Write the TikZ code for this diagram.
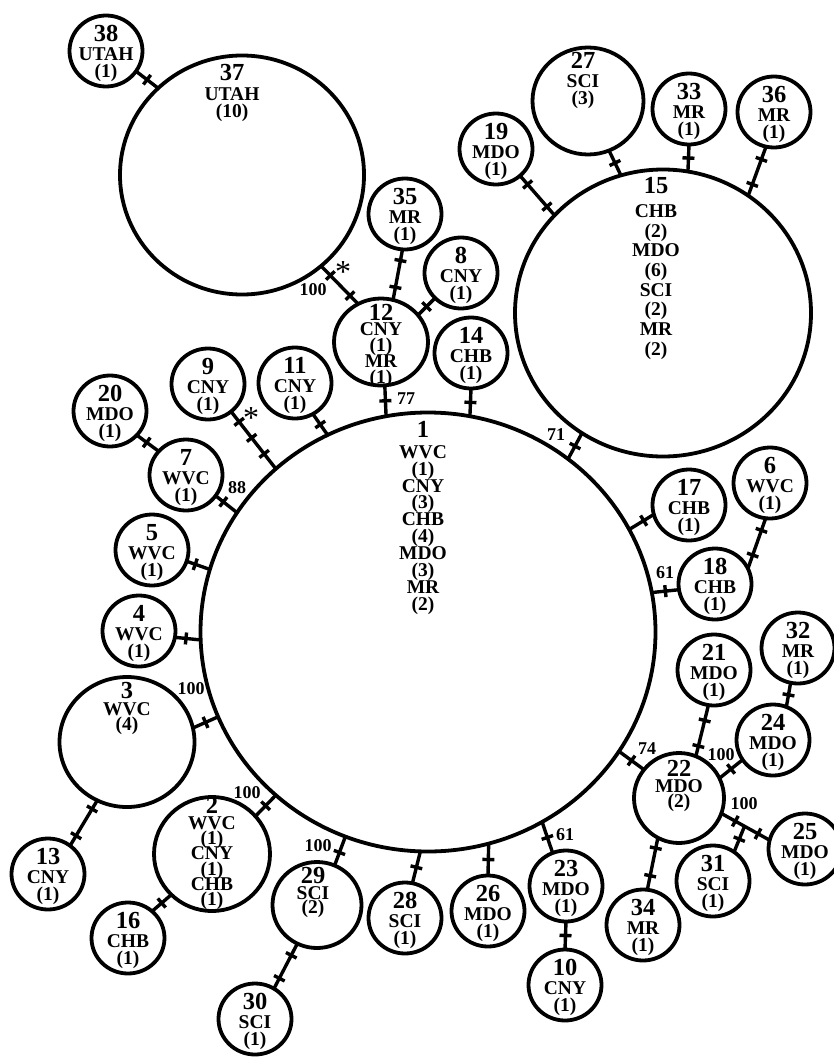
\documentclass[tikz,border=0pt]{standalone}
\usepackage{fontspec}
\setmainfont{Liberation Serif}
\usetikzlibrary{shapes.geometric,decorations.markings}
\newcommand\hnum[1]{{\fontsize{24.5}{24.5}\selectfont #1}}
\tikzset{
  hap/.style 2 args={ellipse, draw, line width=3.8pt, inner sep=0pt, outer sep=0pt, minimum width=#1, minimum height=#2},
  sm/.style={hap={73pt}{71pt}},
  txt/.style={align=center, inner sep=0pt, font=\bfseries\fontsize{19.5}{16.5}\selectfont},
  txtb/.style={align=center, inner sep=0pt, anchor=north, font=\bfseries\fontsize{19.5}{#1}\selectfont},
  cn/.style={line width=3.4pt},
  tk/.style={postaction={decorate, decoration={markings, mark=at position #1 with {\draw[line width=3.4pt] (0pt,-6pt) -- (0pt,6pt);}}}},
  bsv/.style={inner sep=0pt, font=\bfseries\fontsize{18}{18}\selectfont},
  star/.style={inner sep=0pt, font=\fontsize{32}{32}\selectfont}
}
\newcommand\hapS[4]{%
  \node[sm] (n#1) at (#2,#3) {};
  \node[txt] (t#1) at (#2,#3+2.5) {\hnum{#1}\\[2.5pt]#4\\(1)};}
\begin{document}
\lineskiplimit=-30pt
\begin{tikzpicture}[x=1pt,y=-1pt]
\useasboundingbox (0,0) rectangle (834,1057);
% large haplotypes
\node[hap={455pt}{439pt}] (n1) at (428,632) {};
\node[hap={244pt}{239pt}] (n37) at (242,175) {};
\node[hap={296pt}{287pt}] (n15) at (663,313) {};
\node[hap={111pt}{107pt}] (n27) at (588,101) {};
\node[hap={94pt}{87pt}] (n12) at (381,342) {};
\node[hap={135pt}{130pt}] (n3) at (127,742) {};
\node[hap={116pt}{114pt}] (n2) at (212,854) {};
\node[hap={89pt}{86pt}] (n29) at (317,905) {};
\node[hap={90pt}{90pt}] (n22) at (679,798) {};
\node[txtb=16.9] (t1) at (423,421) {\hnum{1}\\[4pt]WVC\\(1)\\CNY\\(3)\\CHB\\(4)\\MDO\\(3)\\MR\\(2)};
\node[txtb=17.5] (t37) at (232,64) {\hnum{37}\\[2.5pt]UTAH\\(10)};
\node[txtb=19.7] (t15) at (656,177) {\hnum{15}\\[4.3pt]CHB\\(2)\\MDO\\(6)\\SCI\\(2)\\MR\\(2)};
\node[txtb=17.5] (t27) at (583,52) {\hnum{27}\\[1.5pt]SCI\\(3)};
\node[txtb=16] (t12) at (381,304) {\hnum{12}\\[-1pt]CNY\\(1)\\MR\\(1)};
\node[txtb=15.5] (t3) at (127,682) {\hnum{3}\\[1.5pt]WVC\\(4)};
\node[txtb=15.2] (t2) at (212,797) {\hnum{2}\\[0.8pt]WVC\\(1)\\CNY\\(1)\\CHB\\(1)};
\node[txtb=14.5] (t29) at (313,867) {\hnum{29}\\[1.5pt]SCI\\(2)};
\node[txtb=15.5] (t22) at (679,760) {\hnum{22}\\[0.5pt]MDO\\(2)};
% single haplotypes
\hapS{38}{106}{51}{UTAH}
\hapS{33}{689}{109}{MR}
\hapS{36}{774}{112}{MR}
\hapS{19}{496}{149}{MDO}
\hapS{35}{405}{214}{MR}
\hapS{8}{461}{273}{CNY}
\hapS{14}{471}{353}{CHB}
\hapS{9}{208}{384}{CNY}
\hapS{11}{295}{383}{CNY}
\hapS{20}{110}{411}{MDO}
\hapS{7}{186}{475}{WVC}
\hapS{5}{152}{550}{WVC}
\hapS{4}{139}{631}{WVC}
\hapS{13}{48}{874}{CNY}
\hapS{16}{128}{938}{CHB}
\hapS{30}{255}{1019}{SCI}
\hapS{28}{405}{918}{SCI}
\hapS{26}{488}{911}{MDO}
\hapS{23}{566}{886}{MDO}
\hapS{10}{565}{985}{CNY}
\hapS{34}{643}{925}{MR}
\hapS{31}{713}{881}{SCI}
\hapS{25}{805}{849}{MDO}
\hapS{24}{773}{740}{MDO}
\hapS{21}{714}{670}{MDO}
\hapS{32}{798}{648}{MR}
\hapS{17}{689}{505}{CHB}
\hapS{18}{715}{584}{CHB}
\hapS{6}{770}{483}{WVC}
% connectors
\draw[cn,tk=0.5] (n38.-34.5) -- (n37.134);
\draw[cn,tk=0.25,tk=0.78] (n37.-49) -- (n12.121.8);
\draw[cn,tk=0.22,tk=0.75] (n35.-94.4) -- (n12.74.7);
\draw[cn,tk=0.5] (n8.-136) -- (n12.36.3);
\draw[cn,tk=0.5] (n12.-85) -- (n1.101);
\draw[cn,tk=0.5] (n14.-90) -- (n1.79.2);
\draw[cn,tk=0.5] (n15.-124.2) -- (n1.51.9);
\draw[cn,tk=0.22,tk=0.78] (n19.-48.1) -- (n15.138);
\draw[cn,tk=0.5] (n27.-67.8) -- (n15.107);
\draw[cn,tk=0.5] (n33.-90) -- (n15.80.2);
\draw[cn,tk=0.26,tk=0.77] (n36.-103.3) -- (n15.54);
\draw[cn,tk=0.18,tk=0.46,tk=0.74] (n9.-50.4) -- (n1.133.6);
\draw[cn,tk=0.5] (n11.-60.6) -- (n1.117.8);
\draw[cn,tk=0.45] (n20.-42) -- (n7.139.2);
\draw[cn,tk=0.36] (n7.-35.7) -- (n1.148.1);
\draw[cn,tk=0.37] (n5.-18.9) -- (n1.164.5);
\draw[cn,tk=0.43] (n4.-10.2) -- (n1.182.7);
\draw[cn,tk=0.5] (n3.12.1) -- (n1.202);
\draw[cn,tk=0.19,tk=0.78] (n3.-117.6) -- (n13.52);
\draw[cn,tk=0.5] (n2.41.7) -- (n1.227.6);
\draw[cn,tk=0.5] (n2.-135.7) -- (n16.48.2);
\draw[cn,tk=0.45] (n29.66.8) -- (n1.248.2);
\draw[cn,tk=0.26,tk=0.77] (n29.-117.1) -- (n30.58);
\draw[cn,tk=0.5] (n28.78.1) -- (n1.-92.5);
\draw[cn,tk=0.5] (n26.90) -- (n1.-74.9);
\draw[cn,tk=0.5] (n23.112.4) -- (n1.-59.6);
\draw[cn,tk=0.5] (n23.-90) -- (n10.90);
\draw[cn,tk=0.5] (n22.141) -- (n1.-32.2);
\draw[cn,tk=0.3,tk=0.8] (n21.-99) -- (n22.68.6);
\draw[cn,tk=0.5] (n22.26.6) -- (n24.-147.8);
\draw[cn,tk=0.29,tk=0.76] (n22.-20.3) -- coordinate[pos=0.48] (j31) (n25.166.7);
\draw[cn,tk=0.5] (n31.54.8) -- (j31);
\draw[cn,tk=0.2,tk=0.73] (n22.-118) -- (n34.83.8);
\draw[cn,tk=0.5] (n32.-102.5) -- (n24.68.7);
\draw[cn,tk=0.41] (n17.195.1) -- (n1.27.9);
\draw[cn,tk=0.5] (n18.189) -- (n1.10.5);
\draw[cn,tk=0.24,tk=0.73] (n6.-97.3) -- (n18.25.9);
% support values and stars
\node[bsv] (b37) at (313,290) {100};
\node[star] (s37) at (343,272) {*};
\node[bsv] (b12) at (406,399) {77};
\node[bsv] (b15) at (556,435) {71};
\node[star] (s9) at (251,418) {*};
\node[bsv] (b7) at (237,488) {88};
\node[bsv] (b3) at (191,689) {100};
\node[bsv] (b2) at (247,793) {100};
\node[bsv] (b29) at (318,846) {100};
\node[bsv] (b23) at (565,835) {61};
\node[bsv] (b22) at (647,749) {74};
\node[bsv] (b24) at (721,755) {100};
\node[bsv] (b25) at (744,804) {100};
\node[bsv] (b18) at (665,573) {61};
\end{tikzpicture}
\end{document}
